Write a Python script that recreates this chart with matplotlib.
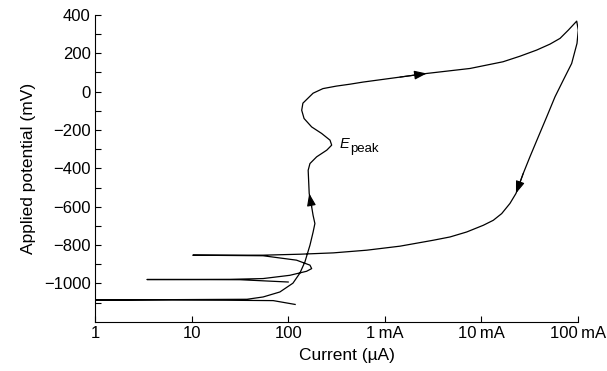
import matplotlib
matplotlib.use('Agg')
import matplotlib.pyplot as plt
import matplotlib.transforms as mtransforms
from matplotlib.ticker import FixedLocator, NullLocator

plt.rcParams['font.family'] = ['Liberation Sans', 'DejaVu Sans']

# forward scan: from the cathodic start up to the top of the loop (current in uA, potential in mV)
current_fwd = [118, 70, 6.3, 0.1, 1, 37.5, 55, 82, 112, 132,
               149, 168, 181, 189, 181, 175, 165, 161, 168, 197,
               251, 282, 271, 222, 175, 146, 138, 142, 181, 229,
               315, 436, 595, 1436, 2716, 7620, 16750, 25100, 37350, 51300,
               65200, 79400, 97000]
potential_fwd = [-1110, -1090, -1086, -1087, -1087, -1083, -1071, -1045, -999, -947,
                 -888, -801, -733, -688, -645, -601, -531, -410, -375, -340,
                 -305, -279, -253, -218, -184, -140, -97, -60, -8, 16,
                 29, 39, 50, 76, 95, 121, 156, 185, 217, 248,
                 278, 321, 368]

# reverse scan back down
current_rev = [100700, 97700, 86000, 70400, 57800, 47400, 38800, 31800, 27100, 22800,
               19760, 16230, 13280, 10470, 7045, 4730, 3180, 1437, 650, 293,
               132, 55, 25, 10.3, 55, 122, 168, 175, 155, 104,
               55, 25, 3.45, 31.7, 100]
potential_rev = [321, 252, 147, 60, -27, -132, -236, -340, -427, -531,
                 -583, -636, -671, -697, -732, -758, -775, -806, -827, -841,
                 -848, -853, -853, -853, -856, -879, -905, -923, -937, -958,
                 -975, -979, -980, -981, -993]

# scan direction arrows (tail -> tip)
arrow_tails = [(175, -601), (1436, 76), (27100, -427)]
arrow_tips = [(165, -531), (2716, 95), (22800, -531)]

x_ticks = [1, 10, 100, 1e3, 1e4, 1e5]
x_ticklabels = ['1', '10', '100', '1\u2009mA', '10\u2009mA', '100\u2009mA']
y_major = [-1000, -800, -600, -400, -200, 0, 200, 400]
y_minor = [-1100, -900, -700, -500, -300, -100, 100, 300]

fig = plt.figure(figsize=(6.07, 3.71), dpi=100)
ax = fig.add_axes([0.1565, 0.1329, 0.7957, 0.8267])

ax.plot(current_fwd + current_rev, potential_fwd + potential_rev, color='k', lw=0.9)

for tail, tip in zip(arrow_tails, arrow_tips):
    ax.annotate('', xy=tip, xytext=tail,
                arrowprops=dict(arrowstyle='-|>,head_length=0.5,head_width=0.18',
                                mutation_scale=15, color='k', lw=0.8,
                                shrinkA=0, shrinkB=0))

ax.set_xscale('log')
ax.set_xlim(1, 1e5)
ax.set_ylim(-1200, 400)

ax.xaxis.set_major_locator(FixedLocator(x_ticks))
ax.xaxis.set_minor_locator(NullLocator())
ax.set_xticklabels(x_ticklabels)
ax.yaxis.set_major_locator(FixedLocator(y_major))
ax.yaxis.set_minor_locator(FixedLocator(y_minor))

ax.tick_params(which='both', direction='in', length=4, width=0.8, labelsize=12)
ax.tick_params(axis='x', pad=3)
ax.tick_params(axis='y', pad=3)

for side in ['top', 'right']:
    ax.spines[side].set_visible(False)
for side in ['left', 'bottom']:
    ax.spines[side].set_linewidth(0.8)

ax.set_ylabel('Applied potential (mV)', fontsize=12.5, labelpad=6)
ax.set_xlabel('Current (\u00b5A)', fontsize=12.5)
ax.xaxis.set_label_coords(0.522, -0.086)

# E_peak label
ax.text(344, -296, 'E', style='italic', fontsize=10.5, ha='left', va='baseline')
sub = mtransforms.offset_copy(ax.transData, fig=fig, x=7.5, y=-2.5, units='points')
ax.text(344, -296, 'peak', fontsize=9.5, ha='left', va='baseline', transform=sub)

fig.savefig('out.png', dpi=100)
